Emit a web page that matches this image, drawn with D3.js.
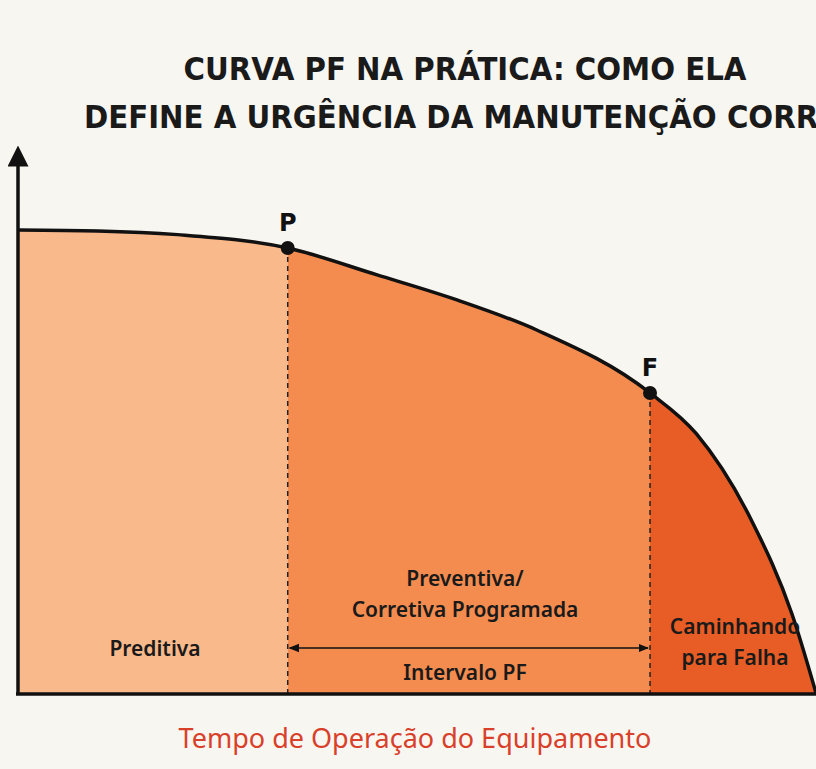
<!DOCTYPE html>
<html><head><meta charset="utf-8">
<script src="https://cdn.jsdelivr.net/npm/d3@7"></script>
<style>body{margin:0;background:#f8f6f1}</style></head>
<body><svg id="c" width="816" height="769"></svg>
<script>
// curve of equipment condition over time
var timeVals = [0, 10, 20, 33.8, 45, 55, 65, 79.2, 85, 92, 97, 100];
var condVals = [100, 99.8, 99, 96.1, 90.3, 84.9, 78.4, 64.8, 56, 37, 17, 0];
var pointLabels = ["P", "F"];
var pointTimes = [33.8, 79.2];
var pointConds = [96.1, 64.8];
var zoneBounds = [0, 33.8, 79.2, 100];
var zoneColors = ["#f9b98a", "#f58c4f", "#e85d25"];

var svg = d3.select("#c");
var x = d3.scaleLinear().domain([0, 100]).range([18, 816]);
var y = d3.scaleLinear().domain([0, 100]).range([693, 230]);
var pts = timeVals.map(function(t, i){ return [t, condVals[i]]; });

var defs = svg.append("defs");
for (let i = 0; i < 3; i++){
  defs.append("clipPath").attr("id", "z" + i).append("rect")
    .attr("x", x(zoneBounds[i])).attr("y", 0)
    .attr("width", x(zoneBounds[i+1]) - x(zoneBounds[i])).attr("height", 693);
  svg.append("path").datum(pts)
    .attr("clip-path", "url(#z" + i + ")")
    .attr("fill", zoneColors[i])
    .attr("d", d3.area().x(d => x(d[0])).y0(y(0)).y1(d => y(d[1])).curve(d3.curveMonotoneX));
}
svg.append("path").datum(pts).attr("fill", "none").attr("stroke", "#111").attr("stroke-width", 3.5)
  .attr("d", d3.line().x(d => x(d[0])).y(d => y(d[1])).curve(d3.curveMonotoneX));

// dashed lines
pointTimes.forEach(function(t, i){
  svg.append("line").attr("x1", x(t)).attr("x2", x(t)).attr("y1", y(pointConds[i])).attr("y2", y(0))
    .attr("stroke", "#222").attr("stroke-width", 1.5).attr("stroke-dasharray", "5,4");
  svg.append("circle").attr("cx", x(t)).attr("cy", y(pointConds[i])).attr("r", 7).attr("fill", "#111");
  svg.append("text").attr("x", x(t)).attr("y", y(pointConds[i]) - 17).attr("text-anchor", "middle")
    .attr("font-family", "DejaVu Sans").attr("font-weight", "bold").attr("font-size", 24).attr("fill", "#111")
    .text(pointLabels[i]);
});

// axes
defs.append("marker").attr("id", "ah").attr("viewBox", "0 0 10 10").attr("refX", 5).attr("refY", 5)
  .attr("markerWidth", 6).attr("markerHeight", 6).attr("orient", "auto")
  .append("path").attr("d", "M0,0L10,5L0,10z").attr("fill", "#111");
svg.append("line").attr("x1", 18).attr("x2", 18).attr("y1", 695).attr("y2", 156)
  .attr("stroke", "#111").attr("stroke-width", 3.5).attr("marker-end", "url(#ah)");
svg.append("line").attr("x1", 16).attr("x2", 816).attr("y1", 694).attr("y2", 694)
  .attr("stroke", "#111").attr("stroke-width", 3.5);

// interval arrow
defs.append("marker").attr("id", "sa").attr("viewBox", "0 0 10 10").attr("refX", 9).attr("refY", 5)
  .attr("markerWidth", 7).attr("markerHeight", 7).attr("orient", "auto-start-reverse")
  .append("path").attr("d", "M0,1L10,5L0,9z").attr("fill", "#111");
svg.append("line").attr("x1", x(pointTimes[0]) + 2).attr("x2", x(pointTimes[1]) - 2).attr("y1", 648).attr("y2", 648)
  .attr("stroke", "#111").attr("stroke-width", 1.5)
  .attr("marker-start", "url(#sa)").attr("marker-end", "url(#sa)");

function txt(s, tx, ty, size, opts){
  opts = opts || {};
  svg.append("text").attr("x", tx).attr("y", ty).attr("text-anchor", opts.anchor || "middle")
    .attr("font-family", opts.family || "Noto Sans").attr("font-weight", opts.weight || "600")
    .attr("font-size", size).attr("fill", opts.fill || "#1a1a1a").text(s);
}
txt("CURVA PF NA PRÁTICA: COMO ELA", 465, 80, 32.5, {family: "DejaVu Sans Condensed", weight: "bold"});
txt("DEFINE A URGÊNCIA DA MANUTENÇÃO CORRETIVA", 84, 128, 32.5, {family: "DejaVu Sans Condensed", weight: "bold", anchor: "start"});
txt("Preventiva/", 465, 586, 21);
txt("Corretiva Programada", 465, 617, 21);
txt("Intervalo PF", 465, 680, 21);
txt("Preditiva", 155, 656, 21);
txt("Caminhando", 735, 634, 21);
txt("para Falha", 735, 665, 21);
txt("Tempo de Operação do Equipamento", 415, 748, 27, {weight: "normal", fill: "#d9402a"});
</script></body></html>
